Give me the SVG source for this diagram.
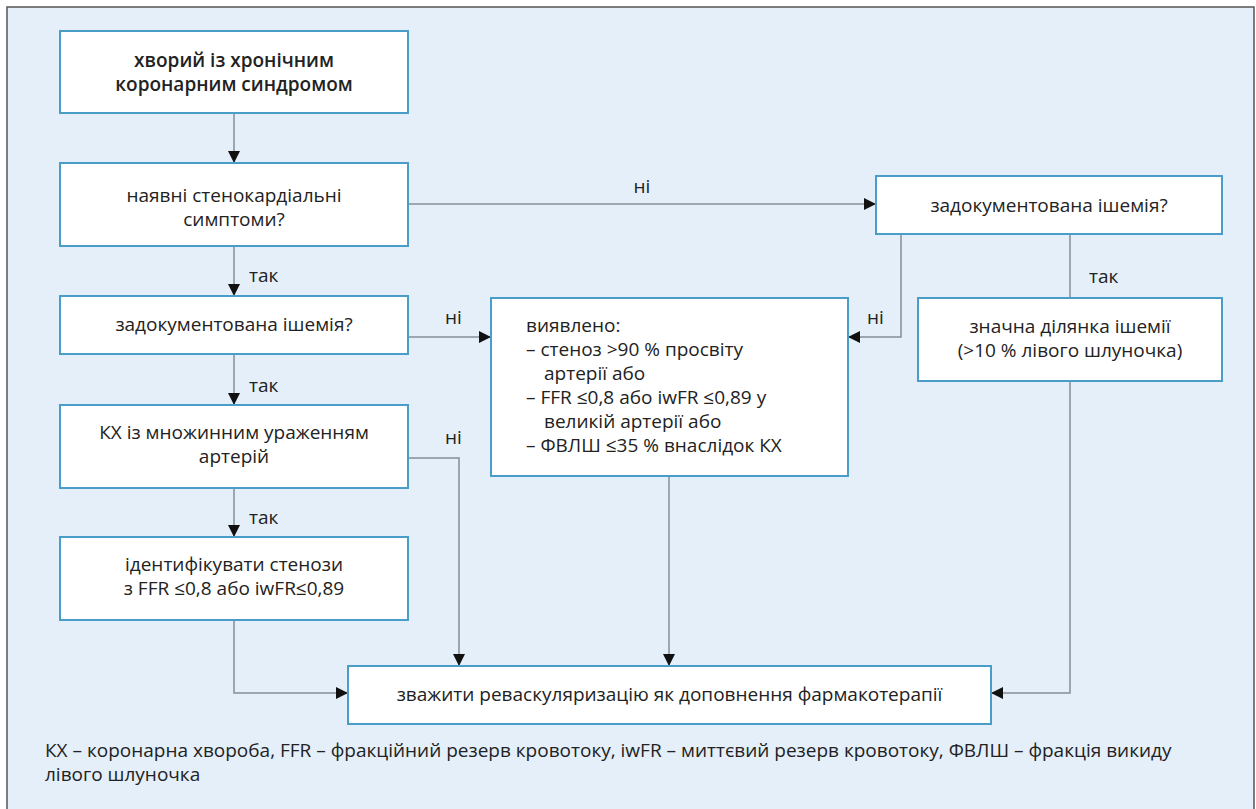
<svg xmlns="http://www.w3.org/2000/svg" width="1256" height="809" viewBox="0 0 1256 809">
  <defs>
    <marker id="arrow" viewBox="0 0 12 12" refX="12" refY="6" markerWidth="12" markerHeight="12" markerUnits="userSpaceOnUse" orient="auto">
      <path d="M0,0 L12,6 L0,12 Z" fill="#111"/>
    </marker>
    <style>
      .box { fill: #ffffff; stroke: #4a9cc9; stroke-width: 2; }
      .t { font-family: "Open Sans", "Noto Sans", sans-serif; font-size: 19px; fill: #222; }
      .c { text-anchor: middle; }
      .b { font-weight: 600; }
      .lbl { font-family: "Open Sans", "Noto Sans", sans-serif; font-size: 19px; fill: #222; }
      .wire { fill: none; stroke: #858f98; stroke-width: 1.5; }
      .arr { marker-end: url(#arrow); }
    </style>
  </defs>

  <!-- panel -->
  <rect x="0" y="0" width="1256" height="809" fill="#ffffff"/>
  <rect x="7" y="7" width="1247" height="810" fill="#e4effa" stroke="#555" stroke-width="1.5"/>

  <!-- connectors -->
  <g id="connectors">
    <path class="wire arr" d="M234,113 V163"/>
    <path class="wire arr" d="M234,246 V296"/>
    <path class="wire arr" d="M234,354 V405"/>
    <path class="wire arr" d="M234,488 V537"/>
    <path class="wire arr" d="M234,620 V693 H348"/>
    <path class="wire arr" d="M408,204 H876"/>
    <path class="wire arr" d="M408,337 H491"/>
    <path class="wire arr" d="M408,458 H459 V666"/>
    <path class="wire arr" d="M901,234 V337 H848"/>
    <path class="wire" d="M1070,234 V298"/>
    <path class="wire arr" d="M1070,381 V693 H991"/>
    <path class="wire arr" d="M669,476 V666"/>
    <text class="lbl" x="642" y="193" text-anchor="middle">ні</text>
    <text class="lbl" x="249" y="282">так</text>
    <text class="lbl" x="249" y="392">так</text>
    <text class="lbl" x="249" y="524">так</text>
    <text class="lbl" x="445" y="324">ні</text>
    <text class="lbl" x="445" y="444">ні</text>
    <text class="lbl" x="867" y="324">ні</text>
    <text class="lbl" x="1089" y="283">так</text>
  </g>

  <g id="start">
    <rect class="box" x="60" y="31" width="348" height="82"/>
    <text class="t c b" x="234" y="67">хворий із хронічним</text>
    <text class="t c b" x="234" y="91">коронарним синдромом</text>
  </g>

  <g id="symptoms">
    <rect class="box" x="60" y="163" width="348" height="83"/>
    <text class="t c" x="234" y="202">наявні стенокардіальні</text>
    <text class="t c" x="234" y="226">симптоми?</text>
  </g>

  <g id="ischemia-left">
    <rect class="box" x="60" y="296" width="348" height="58"/>
    <text class="t c" x="234" y="331">задокументована ішемія?</text>
  </g>

  <g id="multivessel">
    <rect class="box" x="60" y="405" width="348" height="83"/>
    <text class="t c" x="234" y="439">КХ із множинним ураженням</text>
    <text class="t c" x="234" y="463">артерій</text>
  </g>

  <g id="identify">
    <rect class="box" x="60" y="537" width="348" height="83"/>
    <text class="t c" x="234" y="571">ідентифікувати стенози</text>
    <text class="t c" x="234" y="595">з FFR ≤0,8 або iwFR≤0,89</text>
  </g>

  <g id="ischemia-right">
    <rect class="box" x="876" y="176" width="346" height="58"/>
    <text class="t c" x="1049" y="212">задокументована ішемія?</text>
  </g>

  <g id="large-area">
    <rect class="box" x="918" y="298" width="304" height="83"/>
    <text class="t c" x="1070" y="333">значна ділянка ішемії</text>
    <text class="t c" x="1070" y="357">(&gt;10 % лівого шлуночка)</text>
  </g>

  <g id="findings">
    <rect class="box" x="491" y="298" width="357" height="178"/>
    <text class="t" x="526" y="332">виявлено:</text>
    <text class="t" x="526" y="356">– стеноз &gt;90 % просвіту</text>
    <text class="t" x="544" y="380">артерії або</text>
    <text class="t" x="526" y="404">– FFR ≤0,8 або iwFR ≤0,89 у</text>
    <text class="t" x="544" y="428">великій артерії або</text>
    <text class="t" x="526" y="452">– ФВЛШ ≤35 % внаслідок КХ</text>
  </g>

  <g id="revascularize">
    <rect class="box" x="348" y="666" width="643" height="58"/>
    <text class="t c" x="669.5" y="701">зважити реваскуляризацію як доповнення фармакотерапії</text>
  </g>

  <g id="legend">
    <text class="t" x="45" y="757">КХ – коронарна хвороба, FFR – фракційний резерв кровотоку, iwFR – миттєвий резерв кровотоку, ФВЛШ – фракція викиду</text>
    <text class="t" x="45" y="781">лівого шлуночка</text>
  </g>
</svg>
